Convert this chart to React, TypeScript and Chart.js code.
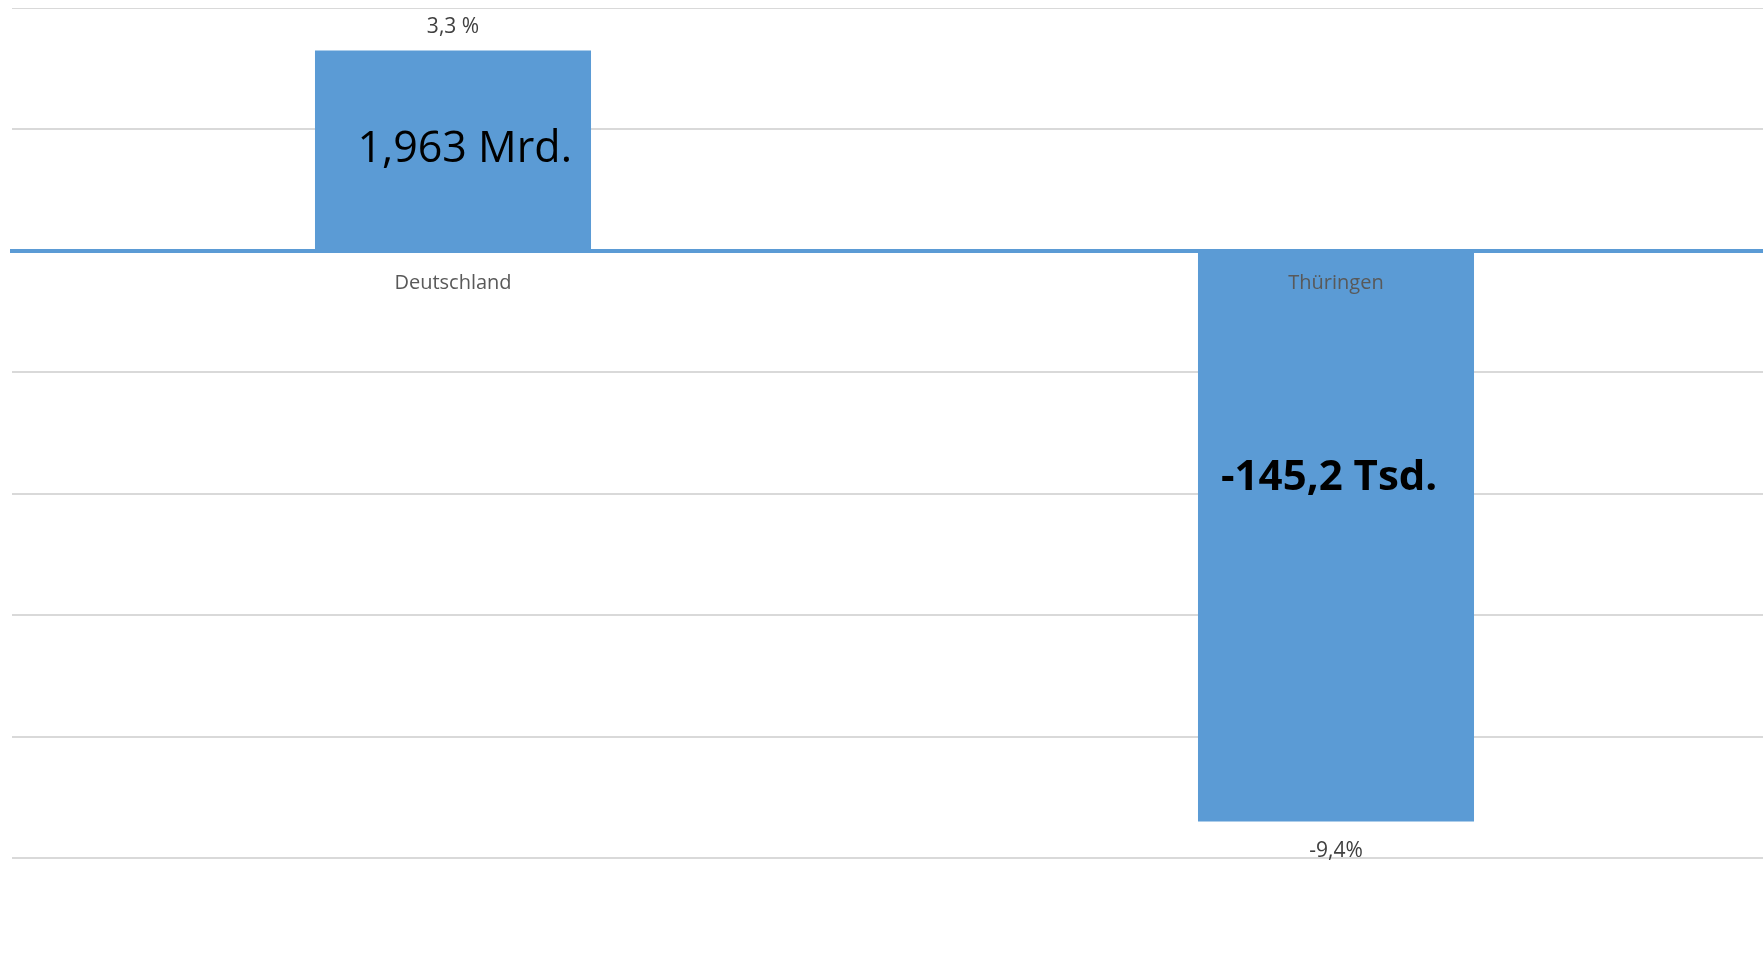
import React, { useEffect, useRef } from 'react';
import { Chart, registerables } from 'chart.js';

Chart.register(...registerables);

// ---- data ----
const categories = ['Deutschland', 'Thüringen'];
const changePercent = [3.3, -9.4];
const percentLabels = ['3,3 %', '-9,4%'];
const absoluteLabels = ['1,963 Mrd.', '-145,2 Tsd.'];
const yMin = -10;
const yMax = 4;
const yStep = 2;

// ---- style ----
const BAR_COLOR = '#5B9BD5';
const FONT = '"Open Sans", sans-serif';
const innerStyle = [
  { weight: 'normal', size: 43, dx: 11.7, frac: 0.442 },
  { weight: 'bold', size: 42, dx: -6.8, frac: 0.418 },
];

const labelPlugin = {
  id: 'barLabels',
  afterDatasetsDraw(chart: any) {
    const ctx = chart.ctx;
    const meta = chart.getDatasetMeta(0);
    meta.data.forEach((bar: any, i: number) => {
      const { x, y, base } = bar.getProps(['x', 'y', 'base'], true);
      const positive = changePercent[i] >= 0;
      ctx.save();
      ctx.textAlign = 'center';
      ctx.textBaseline = 'alphabetic';
      ctx.fillStyle = '#404040';
      ctx.font = `21px ${FONT}`;
      ctx.fillText(percentLabels[i], x, positive ? y - 17.5 : y + 35);
      const s = innerStyle[i];
      ctx.fillStyle = '#000000';
      ctx.font = `${s.weight} ${s.size}px ${FONT}`;
      ctx.fillText(absoluteLabels[i], x + s.dx, base + (y - base) * s.frac);
      ctx.restore();
    });
  },
};

export default function App() {
  const ref = useRef<HTMLCanvasElement>(null);

  useEffect(() => {
    document.documentElement.style.overflow = 'hidden';
    const canvas = ref.current;
    if (!canvas) return;
    const chart = new Chart(canvas, {
      type: 'bar',
      data: {
        labels: categories,
        datasets: [
          {
            data: changePercent,
            backgroundColor: BAR_COLOR,
            borderWidth: 0,
            categoryPercentage: 1,
            barPercentage: 0.3126,
          },
        ],
      },
      options: {
        animation: false,
        responsive: false,
        maintainAspectRatio: false,
        devicePixelRatio: 1,
        layout: { padding: { left: 3.5, right: 20.5, top: 0, bottom: 110 } },
        plugins: {
          legend: { display: false },
          tooltip: { enabled: false },
          title: { display: false },
        },
        scales: {
          x: {
            type: 'category',
            position: { y: 0 } as any,
            offset: true,
            grid: { display: true, drawOnChartArea: false, drawTicks: false },
            border: { display: true, color: BAR_COLOR, width: 4 },
            ticks: {
              z: 1,
              padding: 20,
              color: '#595959',
              font: { family: FONT, size: 20 },
              maxRotation: 0,
            },
            afterFit: (scale: any) => {
              scale.height = 0;
            },
          },
          y: {
            min: yMin,
            max: yMax,
            ticks: { display: false, stepSize: yStep },
            grid: { color: '#D9D9D9', lineWidth: 2, drawTicks: false },
            border: { display: false },
          },
        },
      },
      plugins: [labelPlugin],
    });
    return () => chart.destroy();
  }, []);

  return (
    <div
      style={{
        position: 'fixed',
        left: 8,
        top: 8,
        width: 1755,
        height: 960,
        overflow: 'hidden',
        background: '#ffffff',
      }}
    >
      <canvas ref={ref} width={1790} height={960} style={{ display: 'block' }} />
    </div>
  );
}
